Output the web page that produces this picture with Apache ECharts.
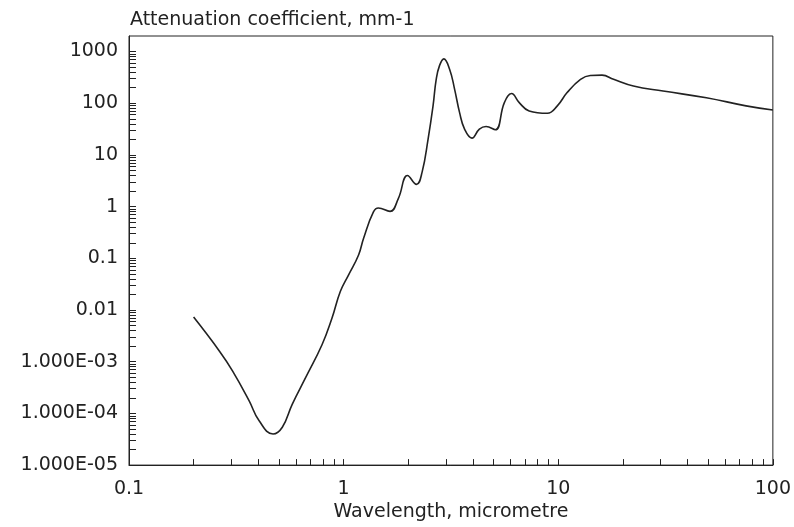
<!DOCTYPE html>
<html>
<head>
<meta charset="utf-8">
<script src="https://cdn.jsdelivr.net/npm/echarts@6/dist/echarts.min.js"></script>
<style>
  html, body { margin: 0; padding: 0; background: #fff; }
  #chart { width: 794px; height: 527px; }
</style>
</head>
<body>
<div id="chart"></div>
<script>
// wavelength in micrometre
const wavelength = [0.2, 0.264, 0.304, 0.363, 0.404, 0.469, 0.518, 0.576,
  0.665, 0.794, 0.883, 0.966, 1.055, 1.174, 1.238, 1.377, 1.452, 1.645,
  1.798, 1.985, 2.185, 2.321, 2.475, 2.61, 2.70, 2.80, 2.93,
  3.12, 3.29, 3.47, 3.66, 3.96, 4.29, 4.61, 5.09, 5.61, 6.06,
  6.58, 7.32, 8.9, 9.9, 11.0, 12.7, 14.1, 16.0, 18.1, 22.4,
  30.8, 49, 75, 100]
// attenuation coefficient, mm-1
const attenuation = [0.0073, 0.0016, 6.6e-4, 1.75e-4, 7.2e-5, 4.0e-5, 5.4e-5, 1.5e-4,
  4.9e-4, 2.15e-3, 7e-3, 0.023, 0.048, 0.116, 0.243, 0.79, 0.94, 0.81,
  1.43, 4.0, 2.69, 4.65, 20.3, 89, 290, 540, 723,
  450, 186, 66, 31.6, 21.2, 31.6, 35.6, 30.7, 103, 154,
  103, 71, 64, 89, 161, 290, 345, 350, 290, 215,
  172, 128, 89, 74]

const xDecades = [0.1, 1, 10, 100]
const yDecades = [1e-5, 1e-4, 1e-3, 0.01, 0.1, 1, 10, 100, 1000]
const minorSteps = [1, 2, 3, 4, 5, 6, 7, 8, 9]

function logTicks (decades) {
  const out = []
  decades.forEach(d => minorSteps.forEach(m => out.push(+(d * m).toPrecision(3))))
  return out
}

function isDecade (v) {
  const l = Math.log10(v)
  return Math.abs(l - Math.round(l)) < 1e-6
}

function fmtX (v) {
  if (!isDecade(v)) return ''
  const e = Math.round(Math.log10(v))
  return e >= 0 ? String(Math.pow(10, e)) : Math.pow(10, e).toFixed(-e)
}

function fmtY (v) {
  if (!isDecade(v)) return ''
  const e = Math.round(Math.log10(v))
  if (e >= 0) return String(Math.pow(10, e))
  if (e >= -2) return Math.pow(10, e).toFixed(-e)
  return '1.000E-' + String(-e).padStart(2, '0')
}

const font = 'DejaVu Sans'
const ink = '#222'

const chart = echarts.init(document.getElementById('chart'), null, { renderer: 'canvas' })
chart.setOption({
  animation: false,
  textStyle: { fontFamily: font, color: ink },
  title: {
    text: 'Attenuation coefficient, mm-1',
    left: 125,
    top: 6,
    textStyle: { fontFamily: font, fontSize: 19, fontWeight: 'normal', color: ink }
  },
  grid: {
    show: true,
    left: 129,
    right: 17,
    top: 36,
    bottom: 59,
    borderColor: ink,
    borderWidth: 1
  },
  xAxis: {
    type: 'log',
    logBase: 10,
    min: 0.1,
    max: 100,
    splitNumber: 3,
    name: 'Wavelength, micrometre',
    nameLocation: 'middle',
    nameGap: 30,
    nameTextStyle: { fontFamily: font, fontSize: 19, color: ink },
    axisLine: { show: true, lineStyle: { color: ink, width: 1 } },
    axisTick: { show: true, inside: true, length: 6, customValues: logTicks(xDecades.slice(0, 3)).concat([100]), lineStyle: { color: ink } },
    axisLabel: { margin: 14, fontFamily: font, fontSize: 19, color: ink, formatter: fmtX },
    splitLine: { show: false }
  },
  yAxis: {
    type: 'log',
    logBase: 10,
    min: 1e-5,
    max: 2000,
    splitNumber: 8,
    axisLine: { show: true, lineStyle: { color: ink, width: 1 } },
    axisTick: { show: true, inside: true, length: 7, customValues: logTicks(yDecades), lineStyle: { color: ink } },
    axisLabel: { margin: 11, fontFamily: font, fontSize: 19, color: ink, formatter: fmtY, showMaxLabel: false },
    splitLine: { show: false }
  },
  series: [{
    type: 'line',
    data: wavelength.map((w, i) => [w, attenuation[i]]),
    smooth: 0.45,
    showSymbol: false,
    lineStyle: { color: ink, width: 1.6 }
  }]
})
</script>
</body>
</html>
